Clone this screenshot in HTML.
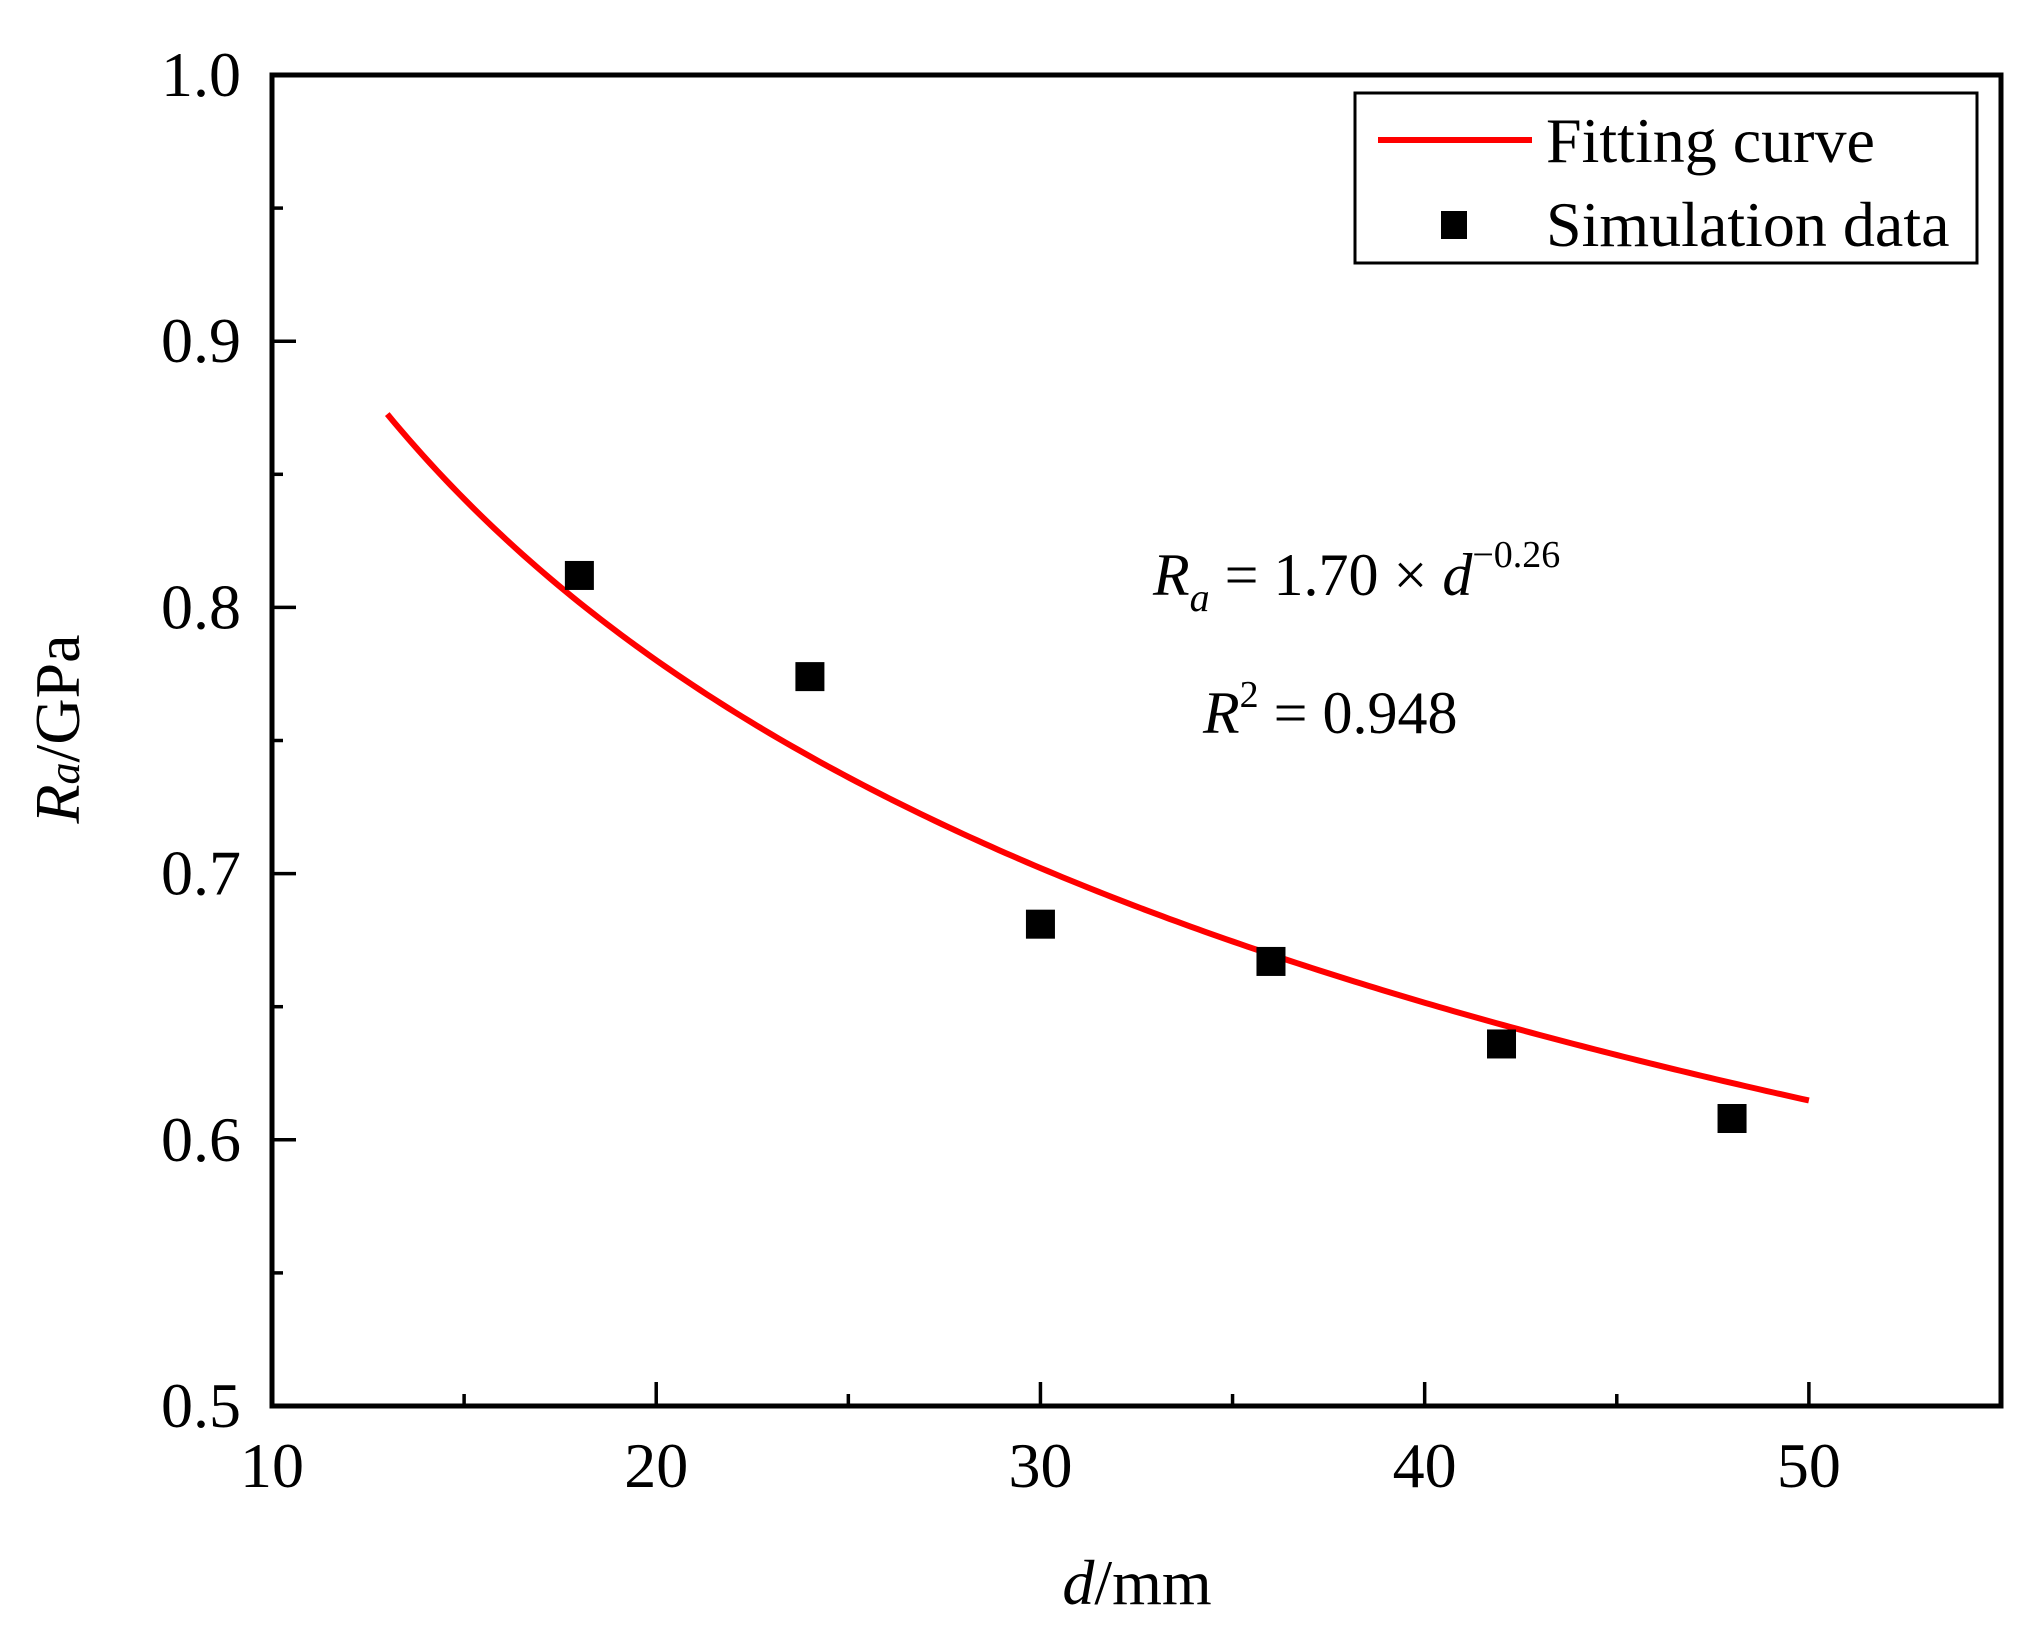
<!DOCTYPE html>
<html><head><meta charset="utf-8"><style>
html,body{margin:0;padding:0;background:#fff}
svg{display:block}
text{font-family:"Liberation Serif",serif;fill:#000}
</style></head><body>
<svg id="chart" width="2042" height="1630" viewBox="0 0 2042 1630"></svg>
<script>
const xTicks=[10,20,30,40,50];
const xMinor=[15,25,35,45];
const yTicks=[0.5,0.6,0.7,0.8,0.9,1.0];
const yTickLabels=["0.5","0.6","0.7","0.8","0.9","1.0"];
const yMinor=[0.55,0.65,0.75,0.85,0.95];
const dValues=[18,24,30,36,42,48];
const raValues=[0.812,0.774,0.681,0.667,0.636,0.608];
const fitA=[1.70];
const fitB=[-0.26];
const fitRange=[13,50];

const L=272,R=2001,T=75,B=1406;
const xMin=10,xMax=55,yMin=0.5,yMax=1.0;
function sx(v){return L+(v-xMin)/(xMax-xMin)*(R-L);}
function sy(v){return B-(v-yMin)/(yMax-yMin)*(B-T);}
const NS="http://www.w3.org/2000/svg";
const svg=document.getElementById('chart');
function mk(tag,attrs,parent){const e=document.createElementNS(NS,tag);for(const k in attrs)e.setAttribute(k,attrs[k]);(parent||svg).appendChild(e);return e;}

let pts=[];
for(let i=0;i<=200;i++){const d=fitRange[0]+(fitRange[1]-fitRange[0])*i/200;pts.push(sx(d).toFixed(2)+','+sy(fitA[0]*Math.pow(d,fitB[0])).toFixed(2));}
const curve=mk('polyline',{points:pts.join(' '),fill:'none',stroke:'#ff0000','stroke-width':6});



dValues.forEach((d,i)=>{
  const m=mk('rect',{x:sx(d)-14.5,y:sy(raValues[i])-14.5,width:29,height:29,fill:'#000'});
  
  
});

const frame=mk('rect',{x:L,y:T,width:R-L,height:B-T,fill:'none',stroke:'#000','stroke-width':5});



xTicks.forEach(v=>{
  const t=mk('line',{x1:sx(v),x2:sx(v),y1:B,y2:B-24,stroke:'#000','stroke-width':3.5});
  
  
  const lb=mk('text',{x:sx(v),y:1487,'font-size':64,'text-anchor':'middle'});
  lb.textContent=v;
  
  
});
xMinor.forEach(v=>{
  const t=mk('line',{x1:sx(v),x2:sx(v),y1:B,y2:B-12,stroke:'#000','stroke-width':3.5});
  
  
});
yTicks.forEach((v,i)=>{
  const t=mk('line',{x1:L,x2:L+24,y1:sy(v),y2:sy(v),stroke:'#000','stroke-width':3.5});
  
  
  const lb=mk('text',{x:241,y:sy(v)+21,'font-size':64,'text-anchor':'end'});
  lb.textContent=yTickLabels[i];
  
  
});
yMinor.forEach(v=>{
  const t=mk('line',{x1:L,x2:L+11,y1:sy(v),y2:sy(v),stroke:'#000','stroke-width':3.5});
  
  
});
</script>
<svg width="2042" height="1630" viewBox="0 0 2042 1630" style="position:absolute;left:0;top:0">
  <text x="1137" y="1604" font-size="64" text-anchor="middle"><tspan font-style="italic">d</tspan>/mm</text>
  <text transform="translate(79,729) rotate(-90)" font-size="64" text-anchor="middle"><tspan font-style="italic">R</tspan><tspan font-style="italic" font-size="44">a</tspan>/GPa</text>
  <g>
    <rect x="1355" y="93" width="622" height="170" fill="#fff" stroke="#000" stroke-width="3"/>
    <line x1="1378" x2="1532" y1="140" y2="140" stroke="#ff0000" stroke-width="6"/>
    <text x="1546" y="162" font-size="64">Fitting curve</text>
    <rect x="1441" y="211" width="26" height="28" fill="#000"/>
    <text x="1546" y="246" font-size="64">Simulation data</text>
  </g>
  <text x="1153" y="595" font-size="60"><tspan font-style="italic">R</tspan><tspan font-style="italic" font-size="40" dy="16">a</tspan><tspan dy="-16"> = 1.70 × </tspan><tspan font-style="italic">d</tspan><tspan font-size="38" dy="-28">−0.26</tspan></text>
  <text x="1203" y="733" font-size="60"><tspan font-style="italic">R</tspan><tspan font-size="38" dy="-26">2</tspan><tspan dy="26"> = 0.948</tspan></text>
</svg>
</body></html>
